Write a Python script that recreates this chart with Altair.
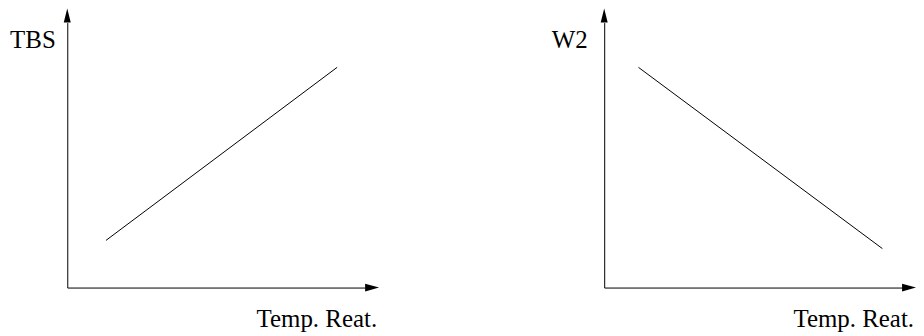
import altair as alt
import pandas as pd

# ---- data ----
tbs_x = [1.30, 9.06]
tbs_y = [1.78, 8.31]
w2_x = [1.15, 9.34]
w2_y = [8.31, 1.47]
panel_titles = ["TBS", "W2"]
x_title = "Temp. Reat."
axis_max = 10

FONT = "Times New Roman, Liberation Serif, DejaVu Serif, serif"
W, H = 299, 266
UP = "M0,-2L-0.5,0L0.5,0Z"
RIGHT = "M2,0L0,-0.55L0,0.55Z"


def panel(xs, ys, ytitle):
    sx = alt.Scale(domain=[0, axis_max], nice=False, zero=False)
    sy = alt.Scale(domain=[0, axis_max], nice=False, zero=False)
    common = dict(ticks=False, labels=False, grid=False, domain=True,
                  domainColor="black", domainWidth=1, titleFont=FONT,
                  titleFontSize=25, titleFontWeight="normal", titleColor="black",
                  titleAlign="center", titleBaseline="alphabetic")
    xaxis = alt.Axis(title=x_title, titleX=250, titleY=39.5, **common)
    yaxis = alt.Axis(title=ytitle, titleAngle=0, titleX=-35, titleY=25, **common)

    def enc(c):
        return c.encode(
            x=alt.X("x:Q", scale=sx, axis=xaxis),
            y=alt.Y("y:Q", scale=sy, axis=yaxis),
        )

    line = enc(alt.Chart(pd.DataFrame({"x": xs, "y": ys})).mark_line(
        color="black", strokeWidth=1
    ))
    up = enc(alt.Chart(pd.DataFrame({"x": [0], "y": [axis_max]})).mark_point(
        shape=UP, size=196, filled=True, color="black", opacity=1, strokeWidth=0
    ))
    right = enc(alt.Chart(pd.DataFrame({"x": [axis_max], "y": [0]})).mark_point(
        shape=RIGHT, size=196, filled=True, color="black", opacity=1, strokeWidth=0
    ))
    return alt.layer(line, up, right).properties(width=W, height=H)


chart = alt.hconcat(
    panel(tbs_x, tbs_y, panel_titles[0]),
    panel(w2_x, w2_y, panel_titles[1]),
    spacing=172,
).properties(
    padding={"left": 1.5, "top": 0, "right": 0, "bottom": 0},
    background="white",
).configure(
    font=FONT,
    view=alt.ViewConfig(stroke=None),
    axis=alt.AxisConfig(titleFont=FONT, titleFontWeight="normal"),
)

chart.save("out.html", embed_options={"renderer": "svg", "actions": False})
